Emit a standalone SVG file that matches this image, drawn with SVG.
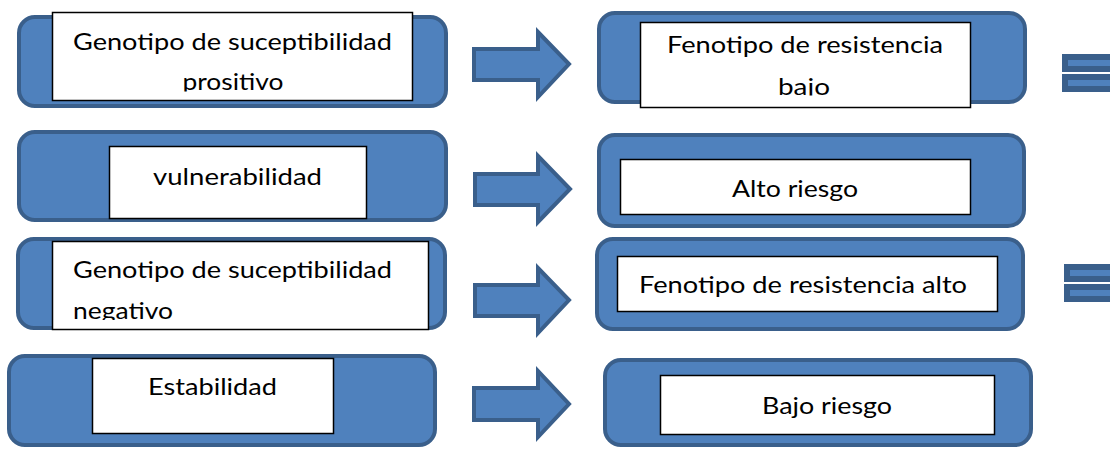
<svg xmlns="http://www.w3.org/2000/svg" width="1110" height="449" viewBox="0 0 1110 449">
  <style>
    .blue { fill: #4f81bd; stroke: #3a5f8b; stroke-width: 4; }
    .white { fill: #ffffff; stroke: #000000; stroke-width: 1.5; }
    .txt { font-family: Lato, "Liberation Sans", sans-serif; font-size: 24px; fill: #000000; }
    .arrow { fill: #4f81bd; stroke: #3a5f8b; stroke-width: 4; stroke-linejoin: miter; }
    .eq { fill: #4f81bd; stroke: #3a5f8b; stroke-width: 6; }
  </style>
  <defs>
    <clipPath id="clipA1"><rect x="52" y="12" width="362" height="79.5"/></clipPath>
    <clipPath id="clipB1"><rect x="640" y="22" width="331" height="73.5"/></clipPath>
    <clipPath id="clipA3"><rect x="52" y="241" width="377" height="79"/></clipPath>
  </defs>
  <rect width="1110" height="449" fill="#ffffff"/>

  <g id="A1">
    <rect class="blue" x="19" y="17" width="427" height="89" rx="16"/>
    <rect class="white" x="52.5" y="12.5" width="360" height="88"/>
    <g clip-path="url(#clipA1)">
      <text class="txt" x="232.5" y="50" text-anchor="middle" textLength="319" lengthAdjust="spacingAndGlyphs">Genotipo de suceptibilidad</text>
      <text class="txt" x="233" y="90" text-anchor="middle" textLength="101" lengthAdjust="spacingAndGlyphs">prositivo</text>
    </g>
  </g>

  <g id="B1">
    <rect class="blue" x="599" y="13" width="426" height="89" rx="16"/>
    <rect class="white" x="640.5" y="22.5" width="330" height="85"/>
    <g clip-path="url(#clipB1)">
      <text class="txt" x="805" y="53" text-anchor="middle" textLength="276" lengthAdjust="spacingAndGlyphs">Fenotipo de resistencia</text>
      <text class="txt" x="804" y="95" text-anchor="middle" textLength="52" lengthAdjust="spacingAndGlyphs">bajo</text>
    </g>
  </g>

  <g id="A2">
    <rect class="blue" x="19" y="132" width="427" height="88" rx="16"/>
    <rect class="white" x="109.5" y="146.5" width="257" height="72"/>
    <text class="txt" x="237.5" y="185" text-anchor="middle" textLength="169" lengthAdjust="spacingAndGlyphs">vulnerabilidad</text>
  </g>

  <g id="B2">
    <rect class="blue" x="599" y="135" width="425" height="91" rx="16"/>
    <rect class="white" x="620.5" y="159.5" width="350" height="55"/>
    <text class="txt" x="795" y="197" text-anchor="middle" textLength="126" lengthAdjust="spacingAndGlyphs">Alto riesgo</text>
  </g>

  <g id="A3">
    <rect class="blue" x="18" y="239" width="427" height="89" rx="16"/>
    <rect class="white" x="52.5" y="241.5" width="376" height="88"/>
    <g clip-path="url(#clipA3)">
      <text class="txt" x="73" y="278" textLength="319" lengthAdjust="spacingAndGlyphs">Genotipo de suceptibilidad</text>
      <text class="txt" x="73" y="319" textLength="100" lengthAdjust="spacingAndGlyphs">negativo</text>
    </g>
  </g>

  <g id="B3">
    <rect class="blue" x="597" y="239" width="426" height="90" rx="16"/>
    <rect class="white" x="617.5" y="256.5" width="380" height="55"/>
    <text class="txt" x="639" y="293" textLength="328" lengthAdjust="spacingAndGlyphs">Fenotipo de resistencia alto</text>
  </g>

  <g id="A4">
    <rect class="blue" x="9" y="356" width="426" height="89" rx="16"/>
    <rect class="white" x="92.5" y="358.5" width="241" height="75"/>
    <text class="txt" x="148" y="395" textLength="129" lengthAdjust="spacingAndGlyphs">Estabilidad</text>
  </g>

  <g id="B4">
    <rect class="blue" x="605" y="360" width="426" height="85" rx="16"/>
    <rect class="white" x="660.5" y="375.5" width="334" height="59"/>
    <text class="txt" x="762" y="414" textLength="130" lengthAdjust="spacingAndGlyphs">Bajo riesgo</text>
  </g>

  <g id="connectors">
    <path class="arrow" d="M474,49 H538 V32 L569,64 L538,97 V80 H474 Z"/>
    <path class="arrow" d="M475,174 H538 V156 L570,189 L538,222 V205 H475 Z"/>
    <path class="arrow" d="M475,285 H538 V268 L569,300 L538,333 V316 H475 Z"/>
    <path class="arrow" d="M474,388 H538 V371 L569,404 L538,437 V420 H474 Z"/>
  </g>

  <g id="eq1">
    <rect class="eq" x="1065" y="57" width="60" height="12"/>
    <rect class="eq" x="1065" y="77" width="60" height="12"/>
  </g>
  <g id="eq2">
    <rect class="eq" x="1067" y="267" width="60" height="12"/>
    <rect class="eq" x="1067" y="287" width="60" height="12"/>
  </g>
</svg>
